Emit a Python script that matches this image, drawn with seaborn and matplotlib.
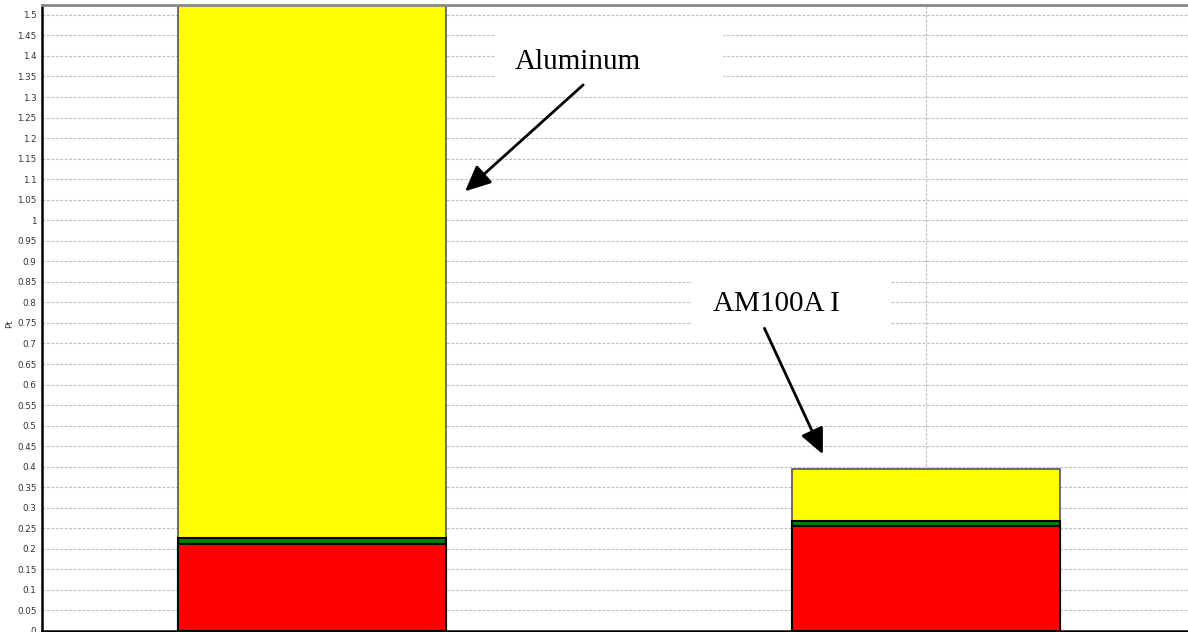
import seaborn as sns
from matplotlib import pyplot as plt
from matplotlib.patches import Rectangle
import numpy as np
import pandas as pd

# data
materials = ['Aluminum', 'AM100A I']
red = [0.211, 0.256]
green = [0.016, 0.012]
yellow = [1.40, 0.126]   # aluminum bar runs off the top of the chart
yticks = np.round(np.arange(0, 1.5001, 0.05), 2)

df = pd.DataFrame({'material': materials, 'red': red, 'green': green, 'yellow': yellow})
df['red_green'] = df['red'] + df['green']
df['total'] = df['red_green'] + df['yellow']

sns.set_style('white')
plt.rcParams['font.family'] = ['DejaVu Sans']

fig = plt.figure(figsize=(11.88, 6.32), dpi=100)
ax = fig.add_axes([42 / 1188, 1 / 632, 1146 / 1188, 626 / 632])

# stacked bars: draw cumulative heights from the top layer down
w = 0.438
sns.barplot(data=df, x='material', y='total', color='#ffff00', width=w,
            edgecolor='#555555', linewidth=1.2, saturation=1, ax=ax)
sns.barplot(data=df, x='material', y='red_green', color='#008000', width=w,
            edgecolor='black', linewidth=1.5, saturation=1, ax=ax)
sns.barplot(data=df, x='material', y='red', color='#ff0000', width=w,
            edgecolor='black', linewidth=1.5, saturation=1, ax=ax)

ax.set_xlim(-0.4397, 1.4267)
ax.set_ylim(0, 1.524)

ax.set_yticks(yticks)
ax.set_yticklabels([f'{v:g}' for v in yticks], fontsize=6.3, color='#333333')
ax.set_xticks(np.arange(-0.25, 1.3, 0.25))
ax.set_xticklabels([])
ax.tick_params(axis='y', length=3, width=0.8, color='#333333', pad=1)
ax.tick_params(axis='x', length=3, width=0.8, color='#888888')
ax.set_xlabel('')
ax.set_ylabel('Pt', fontsize=6, color='#333333')
ax.yaxis.set_label_coords(-0.024, 0.49)

# grid
ax.set_axisbelow(True)
for y in yticks[1:]:
    ax.axhline(y, color='#bdbdbd', lw=0.8, ls=(0, (2.5, 1.5)), zorder=0)
for x in [0, 1]:
    ax.axvline(x, color='#bdbdbd', lw=0.8, ls=(0, (2.5, 1.5)), zorder=0)

for side in ['left', 'bottom']:
    ax.spines[side].set_color('black')
    ax.spines[side].set_linewidth(1.8)
ax.spines['top'].set_color('#888888')
ax.spines['top'].set_linewidth(2)
ax.spines['right'].set_visible(False)

# labels with white boxes and arrows
arrow = dict(arrowstyle='-|>,head_length=1.3,head_width=0.6', color='black',
             lw=2, mutation_scale=12)

ax.add_patch(Rectangle((0.298, 1.325), 0.371, 0.151, facecolor='white',
                       edgecolor='none', zorder=1))
ax.text(0.433, 1.385, 'Aluminum', fontsize=21, family='Liberation Serif',
        color='black', ha='center', va='center', zorder=3)
ax.annotate('', xy=(0.246, 1.066), xytext=(0.445, 1.334),
            arrowprops=arrow, zorder=3)

ax.add_patch(Rectangle((0.619, 0.721), 0.322, 0.158, facecolor='white',
                       edgecolor='none', zorder=1))
ax.text(0.757, 0.796, 'AM100A I', fontsize=21, family='Liberation Serif',
        color='black', ha='center', va='center', zorder=3)
ax.annotate('', xy=(0.834, 0.424), xytext=(0.735, 0.743),
            arrowprops=arrow, zorder=3)

fig.savefig('out.png', dpi=100)
